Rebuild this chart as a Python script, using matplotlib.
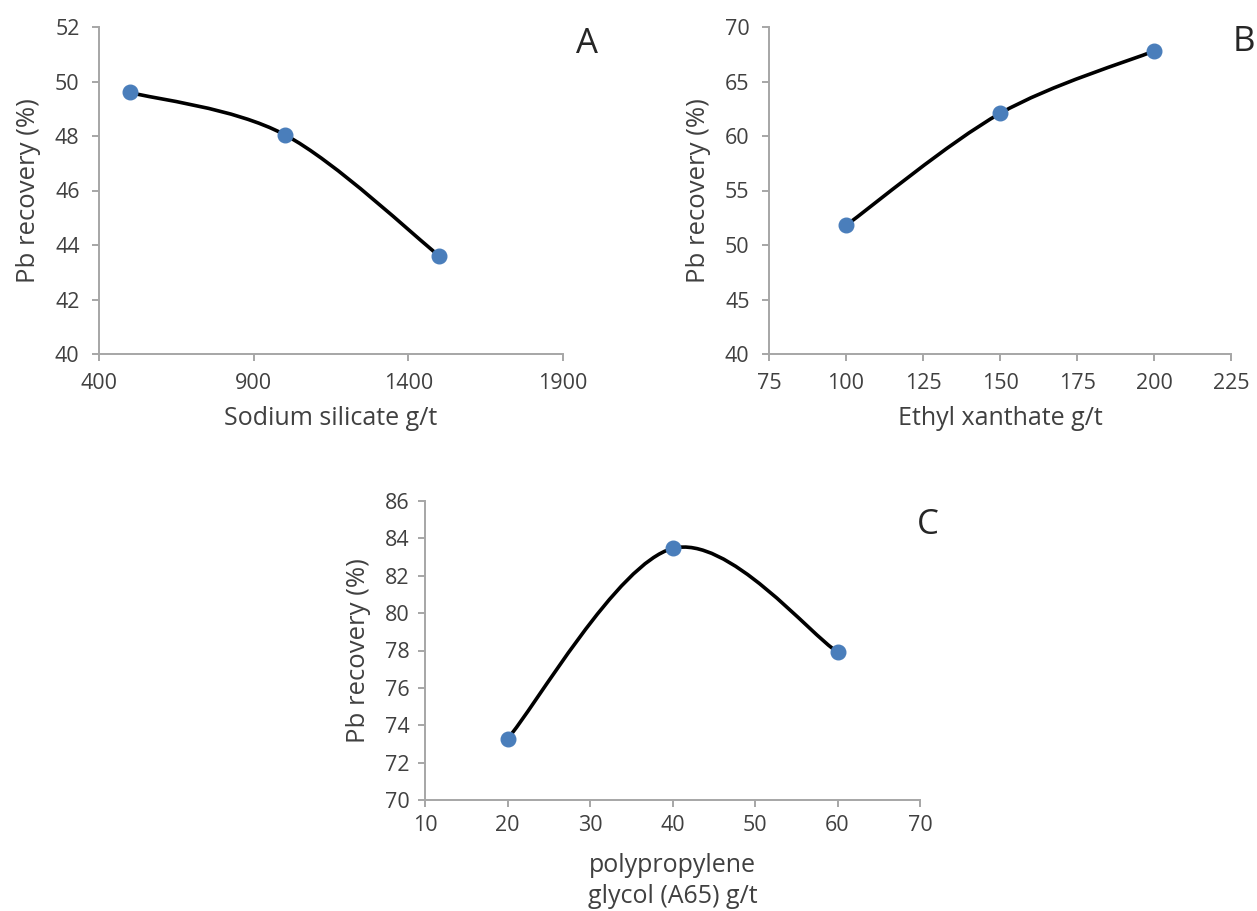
import numpy as np
import matplotlib.pyplot as plt
from matplotlib.path import Path
from matplotlib.patches import PathPatch

plt.rcParams['font.family'] = ['Open Sans', 'DejaVu Sans']

# Panel A: sodium silicate dosage
silicate_dose = [500, 1000, 1500]
silicate_recovery = [49.6, 48.05, 43.6]

# Panel B: ethyl xanthate dosage
xanthate_dose = [100, 150, 200]
xanthate_recovery = [51.8, 62.07, 67.8]

# Panel C: polypropylene glycol (A65) dosage
glycol_dose = [20, 40, 60]
glycol_recovery = [73.27, 83.46, 77.92]

W, H = 1257, 911
TEXT = '#404040'
AXIS = '#A6A6A6'
MARK = '#4A7EBB'


def px_rect(left, right, top, bottom):
    # pixel box -> figure fraction
    return [left / W, 1 - bottom / H, (right - left) / W, (bottom - top) / H]


def smooth_line(ax, xs, ys, **kw):
    # Excel-like smoothed line: cubic Bezier through the points (Catmull-Rom control points)
    p = np.column_stack([xs, ys]).astype(float)
    ext = np.vstack([p[0], p, p[-1]])
    verts = [p[0]]
    codes = [Path.MOVETO]
    for i in range(len(p) - 1):
        c1 = p[i] + (ext[i + 2] - ext[i]) / 6
        c2 = p[i + 1] - (ext[i + 3] - ext[i + 1]) / 6
        verts += [c1, c2, p[i + 1]]
        codes += [Path.CURVE4] * 3
    ax.add_patch(PathPatch(Path(verts, codes), fill=False, **kw))


def panel(rect, xs, ys, xlim, xstep, ylim, ystep, xlabel, xpad=8, tpad=9):
    ax = fig.add_axes(rect)
    smooth_line(ax, xs, ys, edgecolor='black', lw=2.6, zorder=2, capstyle='round')
    ax.plot(xs, ys, 'o', ms=10.5, color=MARK, zorder=3)
    ax.set_xlim(*xlim)
    ax.set_ylim(*ylim)
    ax.set_xticks(np.arange(xlim[0], xlim[1] + 1e-9, xstep))
    ax.set_yticks(np.arange(ylim[0], ylim[1] + 1e-9, ystep))
    for s in ['top', 'right']:
        ax.spines[s].set_visible(False)
    for s in ['left', 'bottom']:
        ax.spines[s].set_color(AXIS)
        ax.spines[s].set_linewidth(1.4)
    ax.tick_params(direction='out', length=5, width=1.4, color=AXIS,
                   labelsize=15.5, labelcolor=TEXT, pad=tpad)
    ax.set_xlabel(xlabel, fontsize=18, color=TEXT, labelpad=xpad, linespacing=1.3)
    ax.set_ylabel('Pb recovery (%)', fontsize=18.5, color=TEXT, labelpad=10)
    return ax


fig = plt.figure(figsize=(W / 100, H / 100), dpi=100)

panel(px_rect(99, 563, 27, 354), silicate_dose, silicate_recovery,
      (400, 1900), 500, (40, 52), 2, 'Sodium silicate g/t')
panel(px_rect(769, 1231, 27, 354), xanthate_dose, xanthate_recovery,
      (75, 225), 25, (40, 70), 5, 'Ethyl xanthate g/t')
panel(px_rect(425, 920, 501, 800), glycol_dose, glycol_recovery,
      (10, 70), 10, (70, 86), 2, 'polypropylene\nglycol (A65) g/t', xpad=12, tpad=6)

for letter, x, y in [('A', 587, 44), ('B', 1244, 42), ('C', 928, 525)]:
    fig.text(x / W, 1 - y / H, letter, fontsize=25, color='#262626',
             ha='center', va='center')

fig.savefig('out.png', dpi=100)
